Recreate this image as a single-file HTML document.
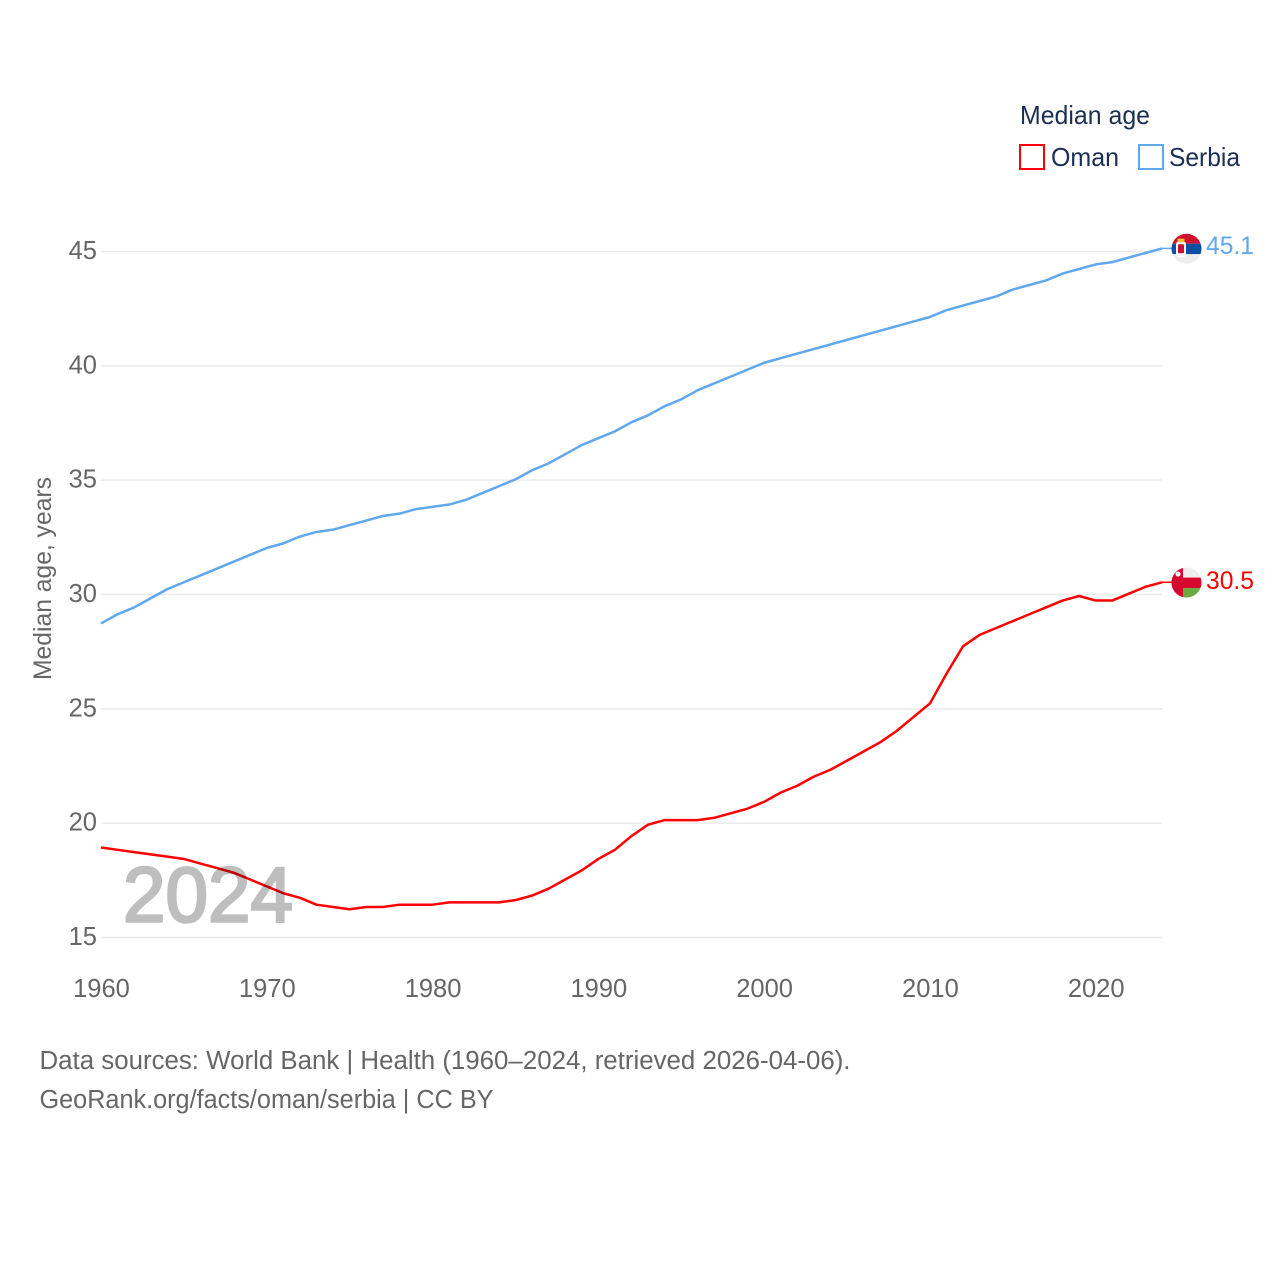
<!DOCTYPE html>
<html lang="en">
<head>
<meta charset="utf-8">
<title>Median age: Oman and Serbia</title>
<style>
html,body{margin:0;padding:0;background:#fff;width:1280px;height:1280px;overflow:hidden}
svg{display:block}
text{font-family:"Liberation Sans",sans-serif}
</style>
</head>
<body>
<svg id="chart" xmlns="http://www.w3.org/2000/svg" width="1280" height="1280" viewBox="0 0 1280 1280">
  <defs>
    <clipPath id="serbia-clip"><circle id="serbia-clip-circle" cx="1186.5" cy="249" r="15"/></clipPath>
    <clipPath id="oman-clip"><circle id="oman-clip-circle" cx="1186.5" cy="583" r="15"/></clipPath>
  </defs>
  <g id="grid"></g>
  <g id="y-ticks"></g>
  <g id="x-ticks"></g>
  <text transform="translate(51,680) rotate(-90)" font-size="25" fill="#666" textLength="203" lengthAdjust="spacingAndGlyphs">Median age, years</text>
  <g id="series"></g>
  <text x="123" y="921.5" font-size="78" fill="#000" stroke="#000" stroke-width="2.6" opacity="0.25" textLength="170" lengthAdjust="spacingAndGlyphs">2024</text>

  <g id="serbia-flag" clip-path="url(#serbia-clip)"></g>
  <g id="oman-flag" clip-path="url(#oman-clip)"></g>
  <text id="serbia-value" x="1206" font-size="25" fill="#5fa8ee" textLength="48" lengthAdjust="spacingAndGlyphs"></text>
  <text id="oman-value" x="1206" font-size="25" fill="#ff0000" textLength="48" lengthAdjust="spacingAndGlyphs"></text>

  <g>
    <text x="1020" y="124" font-size="26" fill="#1a2f52" textLength="130" lengthAdjust="spacingAndGlyphs">Median age</text>
    <rect x="1020" y="145" width="24" height="24" fill="none" stroke="#ff0000" stroke-width="2"/>
    <text x="1051" y="166" font-size="26" fill="#1a2f52" textLength="68" lengthAdjust="spacingAndGlyphs">Oman</text>
    <rect x="1139" y="145" width="24" height="24" fill="none" stroke="#5fa8ee" stroke-width="2"/>
    <text x="1169" y="166" font-size="26" fill="#1a2f52" textLength="71" lengthAdjust="spacingAndGlyphs">Serbia</text>
  </g>

  <text x="39.5" y="1069" font-size="25.5" fill="#666" textLength="811" lengthAdjust="spacingAndGlyphs">Data sources: World Bank | Health (1960–2024, retrieved 2026-04-06).</text>
  <text x="39.5" y="1108" font-size="25.5" fill="#666" textLength="454" lengthAdjust="spacingAndGlyphs">GeoRank.org/facts/oman/serbia | CC BY</text>
</svg>
<script>
const years = [1960,1961,1962,1963,1964,1965,1966,1967,1968,1969,1970,1971,1972,1973,1974,1975,1976,1977,1978,1979,1980,1981,1982,1983,1984,1985,1986,1987,1988,1989,1990,1991,1992,1993,1994,1995,1996,1997,1998,1999,2000,2001,2002,2003,2004,2005,2006,2007,2008,2009,2010,2011,2012,2013,2014,2015,2016,2017,2018,2019,2020,2021,2022,2023,2024];
const serbiaValues = [28.7,29.1,29.4,29.8,30.2,30.5,30.8,31.1,31.4,31.7,32.0,32.2,32.5,32.7,32.8,33.0,33.2,33.4,33.5,33.7,33.8,33.9,34.1,34.4,34.7,35.0,35.4,35.7,36.1,36.5,36.8,37.1,37.5,37.8,38.2,38.5,38.9,39.2,39.5,39.8,40.1,40.3,40.5,40.7,40.9,41.1,41.3,41.5,41.7,41.9,42.1,42.4,42.6,42.8,43.0,43.3,43.5,43.7,44.0,44.2,44.4,44.5,44.7,44.9,45.1];
const omanValues = [18.9,18.8,18.7,18.6,18.5,18.4,18.2,18.0,17.8,17.5,17.2,16.9,16.7,16.4,16.3,16.2,16.3,16.3,16.4,16.4,16.4,16.5,16.5,16.5,16.5,16.6,16.8,17.1,17.5,17.9,18.4,18.8,19.4,19.9,20.1,20.1,20.1,20.2,20.4,20.6,20.9,21.3,21.6,22.0,22.3,22.7,23.1,23.5,24.0,24.6,25.2,26.5,27.7,28.2,28.5,28.8,29.1,29.4,29.7,29.9,29.7,29.7,30.0,30.3,30.5];
const yTickValues = [15,20,25,30,35,40,45];
const xTickValues = [1960,1970,1980,1990,2000,2010,2020];

const NS = 'http://www.w3.org/2000/svg';
const plotLeft = 101, plotRight = 1162;
const plotBottom = 937.5, plotTop = 251.5;
const lineShift = -0.8;
function xScale(year){ return plotLeft + (year - 1960) * (plotRight - plotLeft) / (2024 - 1960); }
function yScale(value){ return plotBottom - (value - 15) * (plotBottom - plotTop) / (45 - 15); }
function make(tag, attrs, parent){
  const el = document.createElementNS(NS, tag);
  Object.keys(attrs).forEach(function(k){ el.setAttribute(k, attrs[k]); });
  parent.appendChild(el);
  return el;
}

const gridGroup = document.getElementById('grid');
const yGroup = document.getElementById('y-ticks');
yTickValues.forEach(function(v){
  const line = make('line', {x1:plotLeft, x2:plotRight, y1:yScale(v), y2:yScale(v), stroke:'#ebebeb', 'stroke-width':1.5}, gridGroup);
  
  
  const label = make('text', {x:97, y:yScale(v) + 7.5, 'text-anchor':'end', 'font-size':25.5, fill:'#666'}, yGroup);
  
  
  label.textContent = String(v);
});

const xGroup = document.getElementById('x-ticks');
xTickValues.forEach(function(y){
  const label = make('text', {x:xScale(y) + 0.5, y:997, 'text-anchor':'middle', 'font-size':25.5, fill:'#666'}, xGroup);
  
  
  label.textContent = String(y);
});

const seriesGroup = document.getElementById('series');
function drawSeries(name, values, color){
  const d = values.map(function(v, i){
    return (i ? 'L' : 'M') + xScale(years[i]).toFixed(2) + ' ' + (yScale(v) + lineShift).toFixed(2);
  }).join(' ');
  const path = make('path', {d:d, fill:'none', stroke:color, 'stroke-width':2.5, 'stroke-linejoin':'round'}, seriesGroup);
  
  
  const last = values[values.length - 1];
  const lead = make('line', {x1:plotRight, x2:1173, y1:yScale(last) + lineShift, y2:yScale(last) + lineShift, stroke:color, 'stroke-width':1.5}, seriesGroup);
  
  
}
drawSeries('oman', omanValues, '#ff0000');
drawSeries('serbia', serbiaValues, '#5fa8ee');

const serbiaLast = serbiaValues[serbiaValues.length - 1];
const omanLast = omanValues[omanValues.length - 1];
const serbiaY = yScale(serbiaLast);
const omanY = yScale(omanLast);

const serbiaLabel = document.getElementById('serbia-value');
serbiaLabel.setAttribute('y', serbiaY + 5);
serbiaLabel.textContent = serbiaLast.toFixed(1);
const omanLabel = document.getElementById('oman-value');
omanLabel.setAttribute('y', omanY + 6);
omanLabel.textContent = omanLast.toFixed(1);

document.getElementById('serbia-clip-circle').setAttribute('cy', serbiaY - 0.5);
document.getElementById('oman-clip-circle').setAttribute('cy', omanY - 0.5);

const sf = document.getElementById('serbia-flag');
const st = serbiaY - 15.5;
make('rect', {x:1171, y:st, width:31, height:10, fill:'#d0102f'}, sf);
make('rect', {x:1171, y:st + 10, width:31, height:10.5, fill:'#0c4ea0'}, sf);
make('rect', {x:1171, y:st + 20.5, width:31, height:10.5, fill:'#eeeeee'}, sf);
make('rect', {x:1176, y:st + 7.5, width:10, height:16, rx:3, fill:'#ffffff'}, sf);
make('rect', {x:1178, y:st + 10.5, width:6, height:9, rx:1, fill:'#c8102e'}, sf);
make('rect', {x:1177.5, y:st + 5, width:7, height:3.5, fill:'#f2c230'}, sf);

const of = document.getElementById('oman-flag');
const ot = omanY - 15.5;
make('rect', {x:1171, y:ot, width:31, height:10, fill:'#eeeeee'}, of);
make('rect', {x:1171, y:ot + 10, width:31, height:10.5, fill:'#d8072f'}, of);
make('rect', {x:1171, y:ot + 20.5, width:31, height:10.5, fill:'#6aa842'}, of);
make('rect', {x:1171, y:ot, width:12, height:31, fill:'#d8072f'}, of);
make('circle', {cx:1178, cy:ot + 6.5, r:2.5, fill:'#ffffff'}, of);
</script>
</body>
</html>
